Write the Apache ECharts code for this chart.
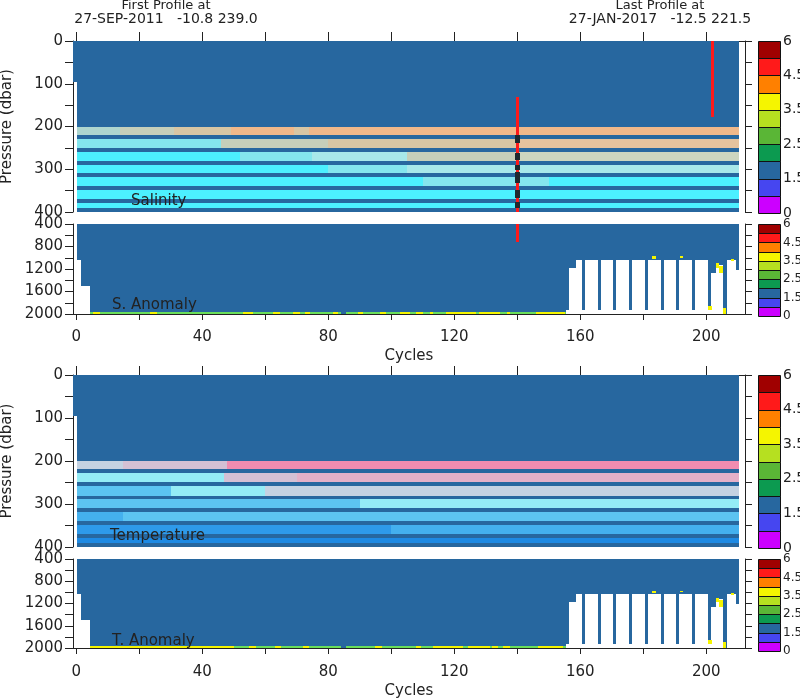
<!DOCTYPE html>
<html><head><meta charset="utf-8">
<script src="https://cdn.jsdelivr.net/npm/echarts@6/dist/echarts.min.js"></script>
<style>html,body{margin:0;padding:0;background:#fff}#c{width:800px;height:700px}</style>
</head><body><div id="c"></div>
<script>
// ================= DATA =================
const xTickValues = [0,20,40,60,80,100,120,140,160,180,200];
const xLabelValues = [0,40,80,120,160,200];
const topYTicks = [0,50,100,150,200,250,300,350,400];
const topYLabels = [0,100,200,300,400];
const anomYTicks = [400,600,800,1000,1200,1400,1600,1800,2000];
const anomYLabels = [400,800,1200,1600,2000];

const colorbarBounds = [0,1,1.5,2,2.5,3,3.5,4,4.5,5,6];
const colorbarLabels = ['0','1.5','2.5','3.5','4.5','6'];
const colorbarClasses = ['magenta','blue','steel','darkgreen','green','yellowgreen','yellow','orange','red','darkred'];

// profile runs: [cycleFrom, cycleTo, deepest pressure (dbar)]
const profileRuns = [
  [-1,0.3,95],[0.3,1.6,1035],[1.6,4.4,1500],[4.4,155.6,2000],
  [155.6,156.5,1920],[156.5,158.7,1180],[158.7,160.5,1035],[160.5,161.5,1920],
  [161.5,165.5,1035],[165.5,166.5,1920],[166.5,170.5,1035],[170.5,171.5,1920],
  [171.5,175.5,1035],[175.5,176.5,1920],[176.5,180.5,1035],[180.5,181.5,1920],
  [181.5,185.5,1035],[185.5,186.5,1920],[186.5,190.5,1035],[190.5,191.5,1920],
  [191.5,195.5,1035],[195.5,196.5,1920],[196.5,200.5,1035],[200.5,201.5,1890],
  [201.5,203.2,1270],[203.2,205.4,1125],[205.4,206.5,2000],[206.5,209.6,1035],
  [209.6,210.5,1215]
];
const qcBlockBottom = 200;                 // dense good-flag block 0-200 dbar
const stripeLevels = [224,254,285,314,344,374,395];
const fieldRowBounds = [200,224,254,285,314,344,374,400];

// field rows (one list per row between fieldRowBounds): [cycleFrom, cycleTo, class]
const salinityRows = [
  [[0.3,14,'teal'],[14,31,'sage'],[31,49,'tan'],[49,69,'peach'],[69,74,'tan'],[74,210.5,'peach']],
  [[0.3,46,'cyanMix'],[46,80,'sage'],[80,140,'tan'],[140,210.5,'peachLight']],
  [[0.3,52,'cyan'],[52,75,'cyanMix'],[75,105,'paleCyan'],[105,140,'sage'],[140,210.5,'paleSage']],
  [[0.3,80,'cyan'],[80,105,'cyanMix'],[105,210.5,'paleCyan']],
  [[0.3,110,'cyan'],[110,150,'cyanMix'],[150,210.5,'cyan']],
  [[0.3,210.5,'cyan']],
  [[0.3,210.5,'cyan']]
];
const temperatureRows = [
  [[0.3,15,'grayBlue'],[15,48,'mauve'],[48,210.5,'pink']],
  [[0.3,47,'aqua'],[47,70,'mauve'],[70,210.5,'pinkLight']],
  [[0.3,30,'sky'],[30,60,'aqua'],[60,210.5,'grayBlue']],
  [[0.3,90,'sky'],[90,210.5,'aqua']],
  [[0.3,15,'blue1'],[15,210.5,'sky']],
  [[0.3,100,'blue2'],[100,210.5,'blue1']],
  [[0.3,210.5,'blue3']]
];

// flagged points: [cycle, pressureFrom, pressureTo]
const redFlags = [[140,130,715],[202,0,178]];
const darkFlags = [[140,220,239],[140,263,278],[140,290,302],[140,306,333],[140,349,368],[140,376,391]];
// anomaly yellow points: [cycleFrom, cycleTo, pFrom, pTo]
const anomCaps = [[182.8,184.2,974,1017],[191.7,192.5,975,1000],[200.4,201.7,1863,1935],
  [203.1,203.9,1093,1182],[204.1,205.4,1141,1271],[205.4,206.4,1893,2000],[207.8,208.9,1017,1053]];
// deepest level flags: [cycleFrom, cycleTo, class]
const sAnomBottom = [[4.4,84.2,'lime'],[85.8,155.6,'lime'],
  [5.5,7.6,'yellow'],[23.5,25.6,'yellow'],[53,56.2,'yellow'],[62.5,64.7,'yellow'],[68.9,71,'yellow'],
  [72.6,74.2,'yellow'],[81.6,83.2,'yellow'],[89.5,91.1,'yellow'],[96.4,98.5,'yellow'],[102.7,105.9,'yellow'],
  [108,110,'yellow'],[112.2,113.3,'yellow'],[117.5,127,'yellow'],[128,134.4,'yellow'],[136.6,137.7,'yellow'],
  [146.1,155.1,'yellow']];
const tAnomBottom = [[4.4,50,'yellow'],[50,84.2,'lime'],[85.8,155.6,'lime'],
  [55,57,'yellow'],[63,65,'yellow'],[72,74,'yellow'],[95,97,'yellow'],[108,109.6,'yellow'],
  [113.3,122.8,'yellow'],[124.4,131.3,'yellow'],[132,134,'yellow'],[135.6,137.7,'yellow'],[146.6,154.5,'yellow']];
const bottomLevelRange = [1960,2000];

const headerLeft = ['First Profile at','27-SEP-2011   -10.8 239.0'];
const headerRight = ['Last Profile at','27-JAN-2017   -12.5 221.5'];
const panelNames = ['Salinity','S. Anomaly','Temperature','T. Anomaly'];

// ================= STYLE =================
const palette = {
  steel:'#27679f', cyan:'#4cf0ff', cyanMix:'#84e6ee', paleCyan:'#a8e8ea', teal:'#aed6cf', sage:'#c6cfba',
  paleSage:'#cdd6c0', tan:'#d8c6a4', peach:'#f0b88a', peachLight:'#e6c39e',
  pink:'#f08cb0', pinkLight:'#e4b0c8', mauve:'#d4c0d4', grayBlue:'#c4d2e2', aqua:'#94ecf6',
  sky:'#5cc4f2', blue1:'#44b0ee', blue2:'#2e9aea', blue3:'#1e8ae4',
  red:'#ff1a1a', dark:'#1e2a30', yellow:'#f5f500', lime:'#6ade5a',
  magenta:'#cc00ff', blue:'#4646f0', darkgreen:'#0c9a50', green:'#5ab636', yellowgreen:'#b6e020',
  orange:'#ff8000', darkred:'#a00000'
};
const FONT = 'DejaVu Sans';
const TXT = '#222';
const AX = '#222';
const X0 = 73, XW = 672;
const panels = [
  {top:41, height:171, yr:[0,400], yt:topYTicks, yl:topYLabels, pos:'top'},
  {top:224, height:90, yr:[400,2000], yt:anomYTicks, yl:anomYLabels, pos:'bottom'},
  {top:375, height:172, yr:[0,400], yt:topYTicks, yl:topYLabels, pos:'top'},
  {top:559, height:89, yr:[400,2000], yt:anomYTicks, yl:anomYLabels, pos:'bottom'}
];
const cbars = [{top:41,height:172,fs:14},{top:224,height:92,fs:12},{top:375,height:173,fs:14},{top:559,height:92,fs:12}];

// ================= BUILD =================
const grid = [], xAxis = [], yAxis = [], series = [];
panels.forEach((p,i)=>{
  grid.push({left:X0, top:p.top, width:XW, height:p.height, containLabel:false, outerBoundsMode:'none'});
  const isBottom = p.pos==='bottom';
  xAxis.push({type:'value', gridIndex:i, position:p.pos, min:-1, max:212.3,
    axisLine:{show:true, onZero:false, lineStyle:{color:AX,width:1}},
    axisTick:{show:true, inside:false, length:isBottom?6:9, customValues:xTickValues, lineStyle:{color:AX}},
    axisLabel:{show:isBottom, customValues:xLabelValues, formatter:v=>String(v), margin:i===1?16:17, fontFamily:FONT, fontSize:15, color:TXT},
    splitLine:{show:false},
    name:isBottom?'Cycles':'', nameLocation:'middle', nameGap:i===1?35:36,
    nameTextStyle:{fontFamily:FONT, fontSize:15, color:TXT}});
});
panels.forEach((p,i)=>{
  const top = p.yr[0]===0;
  yAxis.push({type:'value', gridIndex:i, position:'left', inverse:true, min:p.yr[0], max:p.yr[1],
    axisLine:{show:true,onZero:false,lineStyle:{color:AX}},
    axisTick:{show:true,inside:false,length:8,customValues:p.yt,lineStyle:{color:AX}},
    axisLabel:{customValues:p.yl, formatter:v=>String(v), margin:10, fontFamily:FONT, fontSize:15, color:TXT},
    splitLine:{show:false},
    name: top?'Pressure (dbar)':'', nameLocation:'middle', nameGap:58,
    nameTextStyle:{fontFamily:FONT, fontSize:15, color:TXT}});
});
panels.forEach((p,i)=>{
  yAxis.push({type:'value', gridIndex:i, position:'right', inverse:true, min:p.yr[0], max:p.yr[1],
    axisLine:{show:true,onZero:false,lineStyle:{color:AX}},
    axisTick:{show:true,inside:false,length:7,customValues:p.yt,lineStyle:{color:AX}},
    axisLabel:{show:false}, splitLine:{show:false}});
});
cbars.forEach((c,k)=>{
  grid.push({left:758, top:c.top, width:22, height:c.height, containLabel:false, outerBoundsMode:'none'});
  xAxis.push({type:'value', gridIndex:4+k, min:0, max:1, show:false});
  yAxis.push({type:'value', gridIndex:4+k, position:'right', min:0, max:colorbarBounds.length-1,
    axisLine:{show:false}, axisTick:{show:false}, splitLine:{show:false},
    axisLabel:{customValues:colorbarLabels.map(l=>colorbarBounds.indexOf(parseFloat(l))),
      formatter:v=>String(colorbarBounds[Math.round(v)]), margin:3, fontFamily:FONT, fontSize:c.fs, color:TXT}});
});

function pixRect(a, b){
  const x0 = Math.round(Math.min(a[0],b[0])), x1 = Math.round(Math.max(a[0],b[0]));
  const y0 = Math.round(Math.min(a[1],b[1])), y1 = Math.round(Math.max(a[1],b[1]));
  return {x:x0, y:y0, width:Math.max(1,x1-x0), height:Math.max(1,y1-y0)};
}
function renderRect(params, api){
  const a = api.coord([api.value(0), api.value(2)]);
  const b = api.coord([api.value(1), api.value(3)]);
  const cs = params.coordSys;
  const r = echarts.graphic.clipRectByRect(pixRect(a,b),
    {x:Math.round(cs.x), y:Math.round(cs.y), width:Math.round(cs.width), height:Math.round(cs.height)});
  if(!r) return null;
  return {type:'rect', shape:r, style:{fill:api.visual('color')}};
}
function renderBox(params, api){
  const a = api.coord([api.value(0), api.value(2)]);
  const b = api.coord([api.value(1), api.value(3)]);
  const r = pixRect(a,b);
  r.x += 0.5; r.y += 0.5;
  return {type:'rect', shape:r, style:{fill:api.visual('color'), stroke:'#111', lineWidth:1}};
}
function rects(g, items, z){
  series.push({type:'custom', xAxisIndex:g, yAxisIndex:g, renderItem:renderRect, silent:true, animation:false, z:z||2,
    data:items.map(it=>({value:[it[0],it[1],it[2],it[3]], itemStyle:{color:palette[it[4]]}}))});
}

function panelItems(g, rows){
  const items = [];
  profileRuns.forEach(r=>items.push([r[0],r[1],0,Math.min(r[2],qcBlockBottom),'steel']));
  rows.forEach((row,ri)=>{
    row.forEach(s=>items.push([s[0],s[1],fieldRowBounds[ri],fieldRowBounds[ri+1],s[2]]));
  });
  rects(g, items, 2);
  const st = [];
  profileRuns.forEach(r=>stripeLevels.forEach(l=>{ if(r[2]>l) st.push([r[0],r[1],l-4.5,l+4.5,'steel']); }));
  rects(g, st, 3);
}
function anomItems(g, bottom){
  const items = [];
  profileRuns.forEach(r=>items.push([r[0],r[1],0,r[2],'steel']));
  rects(g, items, 2);
  const b = bottom.map(s=>[s[0],s[1],bottomLevelRange[0],bottomLevelRange[1],s[2]]);
  rects(g, b, 3);
  rects(g, anomCaps.map(c=>[c[0],c[1],c[2],c[3],'yellow']), 4);
}
panelItems(0, salinityRows);
anomItems(1, sAnomBottom);
panelItems(2, temperatureRows);
anomItems(3, tAnomBottom);
rects(0, redFlags.map(f=>[f[0]-0.45,f[0]+0.45,f[1],f[2],'red']), 5);
rects(1, redFlags.map(f=>[f[0]-0.45,f[0]+0.45,f[1],f[2],'red']), 5);
rects(0, darkFlags.map(f=>[f[0]-0.75,f[0]+0.75,f[1],f[2],'dark']), 6);

cbars.forEach((c,k)=>{
  series.push({type:'custom', xAxisIndex:4+k, yAxisIndex:8+k, renderItem:renderBox, silent:true, animation:false,
    data:colorbarClasses.map((cl,i)=>({value:[0,1,i,i+1], itemStyle:{color:palette[cl]}}))});
});

const graphic = [
  {type:'text', x:166, y:6, style:{text:headerLeft[0], font:'13px '+FONT, fill:TXT, align:'center', verticalAlign:'middle'}},
  {type:'text', x:166, y:19, style:{text:headerLeft[1], font:'14px '+FONT, fill:TXT, align:'center', verticalAlign:'middle'}},
  {type:'text', x:660, y:6, style:{text:headerRight[0], font:'13px '+FONT, fill:TXT, align:'center', verticalAlign:'middle'}},
  {type:'text', x:660, y:19, style:{text:headerRight[1], font:'14px '+FONT, fill:TXT, align:'center', verticalAlign:'middle'}},
  {type:'text', x:131, y:201, z:100, style:{text:panelNames[0], font:'15px '+FONT, fill:TXT, align:'left', verticalAlign:'middle'}},
  {type:'text', x:112, y:305, z:100, style:{text:panelNames[1], font:'15px '+FONT, fill:TXT, align:'left', verticalAlign:'middle'}},
  {type:'text', x:110, y:536, z:100, style:{text:panelNames[2], font:'15px '+FONT, fill:TXT, align:'left', verticalAlign:'middle'}},
  {type:'text', x:112, y:641, z:100, style:{text:panelNames[3], font:'15px '+FONT, fill:TXT, align:'left', verticalAlign:'middle'}}
];

const chart = echarts.init(document.getElementById('c'), null, {renderer:'canvas'});
chart.setOption({animation:false, backgroundColor:'#fff', grid, xAxis, yAxis, series, graphic});
</script></body></html>
